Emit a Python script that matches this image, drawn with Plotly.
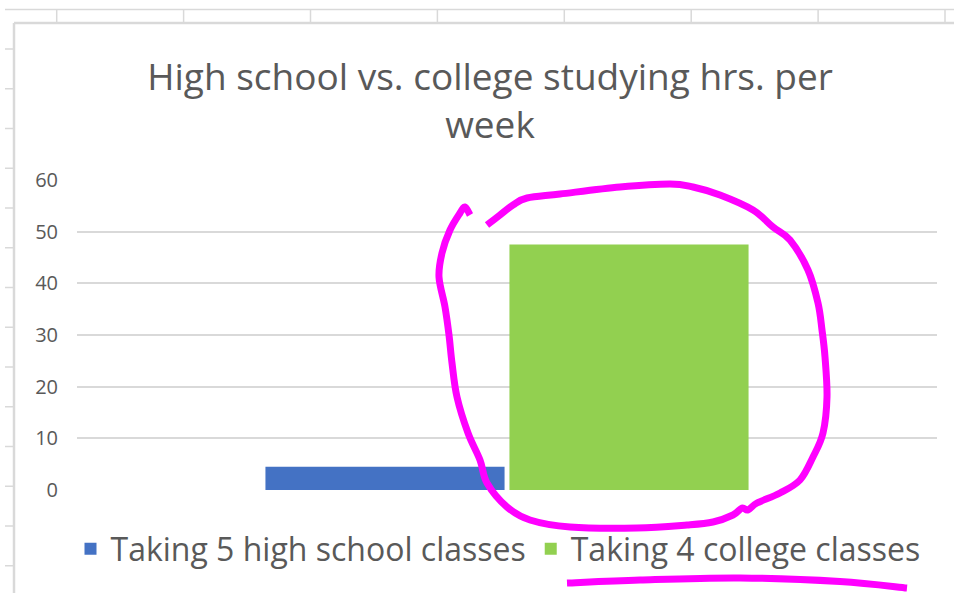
import plotly.graph_objects as go

# ---- data ----
categories = ["Studying hrs. per week"]
series_names = ["Taking 5 high school classes", "Taking 4 college classes"]
series_values = [[4.5], [47.5]]
series_colors = ["#4472C4", "#92D050"]
y_ticks = [0, 10, 20, 30, 40, 50, 60]

W, H = 954, 593
PL, PR, PT, PB = 77, 937, 180, 490  # plot area in pixels


def px(x):
    return (x - PL) / (PR - PL)


def py(y):
    return (PB - y) / (PB - PT)


fig = go.Figure()
for name, vals, col in zip(series_names, series_values, series_colors):
    fig.add_trace(go.Bar(x=categories, y=vals, name=name,
                         marker=dict(color=col, line=dict(width=0))))

shapes = []
grey = "#d9d9d9"
# spreadsheet frame
shapes.append(dict(type="line", xref="paper", yref="paper", x0=px(5), x1=px(954),
                   y0=py(9.5), y1=py(9.5), line=dict(color=grey, width=1.5)))
for k in range(8):
    xx = 56.7 + 126.9 * k
    shapes.append(dict(type="line", xref="paper", yref="paper", x0=px(xx), x1=px(xx),
                       y0=py(9.5), y1=py(23), line=dict(color=grey, width=1.5)))
for k in range(14):
    yy = 49 + 39.75 * k
    shapes.append(dict(type="line", xref="paper", yref="paper", x0=px(5), x1=px(14),
                       y0=py(yy), y1=py(yy), line=dict(color=grey, width=1.5)))
# chart border
shapes.append(dict(type="line", xref="paper", yref="paper", x0=px(14), x1=px(954),
                   y0=py(23), y1=py(23), line=dict(color=grey, width=2.5)))
shapes.append(dict(type="line", xref="paper", yref="paper", x0=px(14), x1=px(14),
                   y0=py(23), y1=py(593), line=dict(color=grey, width=2.5)))


def smooth_path(pts):
    # Catmull-Rom to cubic Bezier, in paper coords
    P = [(px(a), py(b)) for a, b in pts]
    d = "M %.5f,%.5f" % P[0]
    for i in range(len(P) - 1):
        p0 = P[i - 1] if i > 0 else P[i]
        p1 = P[i]
        p2 = P[i + 1]
        p3 = P[i + 2] if i + 2 < len(P) else P[i + 1]
        c1 = (p1[0] + (p2[0] - p0[0]) / 6, p1[1] + (p2[1] - p0[1]) / 6)
        c2 = (p2[0] - (p3[0] - p1[0]) / 6, p2[1] - (p3[1] - p1[1]) / 6)
        d += " C %.5f,%.5f %.5f,%.5f %.5f,%.5f" % (c1 + c2 + p2)
    return d


circle_pts = [(470, 215), (465, 207), (460, 213), (450, 230), (442, 253), (439, 277),
              (445, 307), (449, 335), (452, 363), (457, 397), (468, 433), (480, 460),
              (487, 483), (507, 507), (530, 520), (570, 527), (637, 528), (687, 525),
              (713, 522), (733, 515), (742, 508), (748, 510), (757, 503), (780, 493),
              (800, 480), (813, 457), (823, 433), (827, 397), (825, 357), (822, 330),
              (818, 303), (808, 270), (790, 240), (773, 227), (753, 210), (720, 195),
              (693, 187), (670, 184), (620, 187), (560, 194), (527, 198), (513, 205),
              (500, 215), (487, 225)]
under_pts = [(567, 583), (640, 580), (740, 578), (840, 581.5), (907, 588)]
mag = "#ff00ff"
shapes.append(dict(type="path", xref="paper", yref="paper", path=smooth_path(circle_pts),
                   line=dict(color=mag, width=7), layer="above"))
shapes.append(dict(type="path", xref="paper", yref="paper", path=smooth_path(under_pts),
                   line=dict(color=mag, width=7), layer="above"))

fig.update_layout(
    width=W, height=H,
    margin=dict(l=PL, r=W - PR, t=PT, b=H - PB, pad=0),
    paper_bgcolor="white", plot_bgcolor="white",
    font=dict(family="Open Sans", color="#595959"),
    title=dict(text="High school vs. college studying hrs. per<br>week",
               font=dict(size=37, color="#595959", family="Open Sans"),
               x=490 / W, xanchor="center", xref="container",
               y=1 - 90 / H, yanchor="middle", yref="container"),
    barmode="group", bargap=1 - 488 / 860, bargroupgap=0.02,
    showlegend=True,
    legend=dict(orientation="h", x=px(498), xanchor="center", y=py(549), yanchor="middle",
                font=dict(size=32, color="#595959", family="Open Sans"),
                itemwidth=30, bgcolor="rgba(0,0,0,0)"),
    shapes=shapes,
)
fig.update_xaxes(showticklabels=False, showgrid=False, zeroline=False, showline=False,
                 ticks="")
fig.update_yaxes(range=[0, 60], tickvals=y_ticks, showgrid=True, gridcolor=grey,
                 gridwidth=1.5, zeroline=False, showline=False, ticks="",
                 tickfont=dict(size=20, color="#595959", family="Open Sans"),
                 ticklabelstandoff=18)

fig.write_html("out.html")
